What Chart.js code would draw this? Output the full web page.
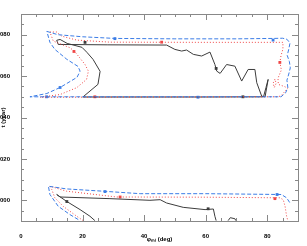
<!DOCTYPE html>
<html>
<head>
<meta charset="utf-8">
<script src="https://cdn.jsdelivr.net/npm/chart.js@4"></script>
<style>
  body { margin: 0; background: #fff; }
</style>
</head>
<body>
<canvas id="myChart" width="307" height="246"></canvas>
<script>
// tick labels
const xTicks = [0, 20, 40, 60, 80];
const yTicks = [2000, 2020, 2040, 2060, 2080];

// contours, [phi, year] pairs
const blackUpper = [
  [11.6, 2077.3], [12.1, 2075.3], [28, 2075.1], [47.3, 2075.0], [50, 2072.9],
  [52.2, 2072.1], [53.8, 2072.6], [56, 2070.5], [58.7, 2069.7], [61.4, 2071.6],
  [63.0, 2065.6], [63.6, 2062.4], [64.7, 2061.3], [66.8, 2065.6], [69.5, 2064.8],
  [71.7, 2057.6], [73.8, 2063.2], [76.0, 2063.2], [76.6, 2056.8], [78.2, 2050.3],
  [79.3, 2050.0], [80.3, 2058.4], [79.6, 2054.5], [78.8, 2050.0], [60, 2049.9],
  [40, 2049.9], [20.1, 2049.9], [25.0, 2056.0], [25.7, 2062.3], [23.4, 2068.1],
  [21.4, 2071.5], [19.8, 2073.9], [15, 2075.8], [12.7, 2077.7], [11.6, 2077.3]
];
const redUpper = [
  [9.4, 2081.3], [11.6, 2081.3], [13.2, 2079.3], [18.1, 2077.4], [28.9, 2076.4],
  [60, 2076.3], [85.1, 2076.3], [85.1, 2073], [84.5, 2070], [84.1, 2066.6],
  [84.6, 2063], [83.5, 2059], [83.6, 2056], [85.5, 2055], [86.7, 2054.2],
  [84.5, 2050.5], [83.5, 2050], [50, 2049.9], [6.2, 2049.8], [12.7, 2051.1],
  [18.1, 2054.4], [21.3, 2058.4], [21.9, 2062.4], [20.8, 2065.6], [17.5, 2071.8],
  [15.9, 2073.7], [13.2, 2075.3], [10.5, 2076.9], [9.4, 2081.3]
];
const redLoop = [
  [82.5, 2058.5], [81.9, 2056.5], [82.3, 2054.5], [82.9, 2056.5], [82.5, 2058.5]
];
const blueUpper = [
  [8.4, 2081.6], [12, 2080], [20, 2079], [30.5, 2078.2], [50, 2078],
  [70, 2078], [82, 2078.2], [85, 2078.3], [86.4, 2077.8], [87.4, 2076],
  [87, 2073], [86.5, 2070], [87.2, 2067], [87.5, 2064], [87, 2061],
  [86.4, 2058], [86.7, 2054.5], [86, 2052], [84.5, 2050], [60, 2050],
  [30, 2050], [2.9, 2050], [8.4, 2051.6], [12.7, 2054.5], [18.2, 2059.4],
  [19.2, 2062.4], [18.5, 2064.7], [14.9, 2068.1], [11.0, 2072.9], [9.4, 2076.3],
  [8.4, 2081.6]
];
const blackLower = [
  [24.0, 1990.2], [22.4, 1992.3], [19.2, 1995.5], [14.8, 1999.5], [11.6, 2002.8],
  [12.7, 2001.6], [28.9, 2000.8], [41.9, 2000.0], [45.2, 2000.3], [47.3, 1998.7],
  [52.7, 1996.6], [59.8, 1995.5], [62.5, 1995.8], [63.0, 1992.3], [63.4, 1990.2]
];
const blackBump = [[67.3, 1990.2], [68.0, 1991.6], [69.5, 1991.1], [69.8, 1990.2]];
const redLower = [
  [20.2, 1990.2], [18.1, 1992.3], [13.7, 1997.1], [11.0, 2001.2], [10.0, 2005.2],
  [9.4, 2006.8], [14.8, 2004.4], [31.1, 2001.6], [60, 2001.5], [84.1, 2001.2],
  [85.2, 2000.3], [85.8, 1997.1], [86.3, 1992.3], [86.7, 1990.2]
];
const blueLower = [
  [18.6, 1990.7], [15.9, 1993.1], [12.1, 1997.1], [9.4, 2002.8], [8.9, 2006.8],
  [14.8, 2005.5], [26.6, 2004.4], [38.7, 2003.2], [60, 2003.2], [84.6, 2002.8],
  [86.3, 2001.2], [87.4, 1998.7]
];

// contour label spots
const blackLabels = [[20.8, 2076.3], [63.4, 2063.7], [72.1, 2050.0], [14.9, 1999.4], [60.8, 1995.9]];
const redLabels = [[17.2, 2071.9], [24.0, 2050.0], [45.7, 2076.4], [84.1, 2066.6], [32.2, 2001.6], [82.5, 2000.8]];
const blueLabels = [[12.7, 2054.5], [8.3, 2050], [30.5, 2078.1], [57.5, 2049.8], [81.9, 2077.4], [27.3, 2004.2], [83.2, 2002.8]];

const blackCol = "rgb(60, 60, 60)";
const redCol = "rgb(240, 70, 70)";
const blueCol = "rgb(60, 125, 230)";

function pts(arr) {
  return arr.map((p) => ({ x: p[0], y: p[1] }));
}

function line(arr, color, dash) {
  return {
    data: pts(arr),
    showLine: true,
    borderColor: color,
    borderWidth: 1,
    borderDash: dash,
    pointRadius: 0,
    tension: 0,
  };
}

function marks(arr, color) {
  return {
    data: pts(arr),
    showLine: false,
    pointStyle: "rect",
    pointRadius: 2,
    backgroundColor: color,
    borderColor: color,
    borderWidth: 0,
  };
}

const datasets = [
  line(blueUpper, blueCol, [4, 2]),
  line(blueLower, blueCol, [4, 2]),
  line(redUpper, redCol, [1, 2]),
  line(redLoop, redCol, [1, 2]),
  line(redLower, redCol, [1, 2]),
  line(blackUpper, blackCol, []),
  line(blackLower, blackCol, []),
  line(blackBump, blackCol, []),
  marks(blueLabels, blueCol),
  marks(redLabels, redCol),
  marks(blackLabels, blackCol),
];

// box round the plot with inward ticks on all four sides
const frame = {
  id: "frame",
  afterDraw(chart) {
    const { ctx, chartArea: a, scales } = chart;
    ctx.save();
    ctx.strokeStyle = "#888";
    ctx.lineWidth = 1;
    ctx.strokeRect(a.left + 0.5, a.top + 0.5, a.right - a.left, a.bottom - a.top);
    ctx.beginPath();
    for (let v = 0; v <= 90; v += 5) {
      const px = Math.round(scales.x.getPixelForValue(v)) + 0.5;
      const len = v % 20 === 0 ? 6 : 3;
      ctx.moveTo(px, a.bottom);
      ctx.lineTo(px, a.bottom - len);
      ctx.moveTo(px, a.top);
      ctx.lineTo(px, a.top + len);
    }
    for (let v = 1990; v <= 2090; v += 5) {
      const py = Math.round(scales.y.getPixelForValue(v)) + 0.5;
      const len = v % 20 === 0 ? 6 : 3;
      ctx.moveTo(a.left, py);
      ctx.lineTo(a.left + len, py);
      ctx.moveTo(a.right, py);
      ctx.lineTo(a.right - len, py);
    }
    ctx.stroke();
    ctx.restore();
  },
};

const tickFont = { family: "Liberation Sans", size: 6, weight: "bold" };

const config = {
  type: "scatter",
  data: { datasets: datasets },
  plugins: [frame],
  options: {
    responsive: false,
    animation: false,
    devicePixelRatio: 1,
    layout: {
      padding: { left: 0, top: 14, right: 9, bottom: 0 },
    },
    plugins: {
      legend: { display: false },
      tooltip: { enabled: false },
    },
    scales: {
      x: {
        type: "linear",
        min: 0,
        max: 90,
        afterBuildTicks: (s) => {
          s.ticks = xTicks.map((v) => ({ value: v }));
        },
        afterFit: (s) => {
          s.height = 25;
        },
        grid: { display: false },
        border: { display: false },
        ticks: { font: tickFont, color: "#000", padding: 4, maxRotation: 0 },
        title: {
          display: true,
          text: "φₘₗ (deg)",
          font: tickFont,
          color: "#000",
          padding: { top: 0, bottom: 3 },
        },
      },
      y: {
        type: "linear",
        min: 1990,
        max: 2090,
        afterBuildTicks: (s) => {
          s.ticks = yTicks.map((v) => ({ value: v }));
        },
        afterFit: (s) => {
          s.width = 21;
        },
        grid: { display: false },
        border: { display: false },
        ticks: { font: tickFont, color: "#000", padding: 3 },
        title: {
          display: true,
          text: "t (year)",
          font: tickFont,
          color: "#000",
          padding: 0,
        },
      },
    },
  },
};

const myChart = new Chart(document.getElementById("myChart"), config);
</script>
</body>
</html>
